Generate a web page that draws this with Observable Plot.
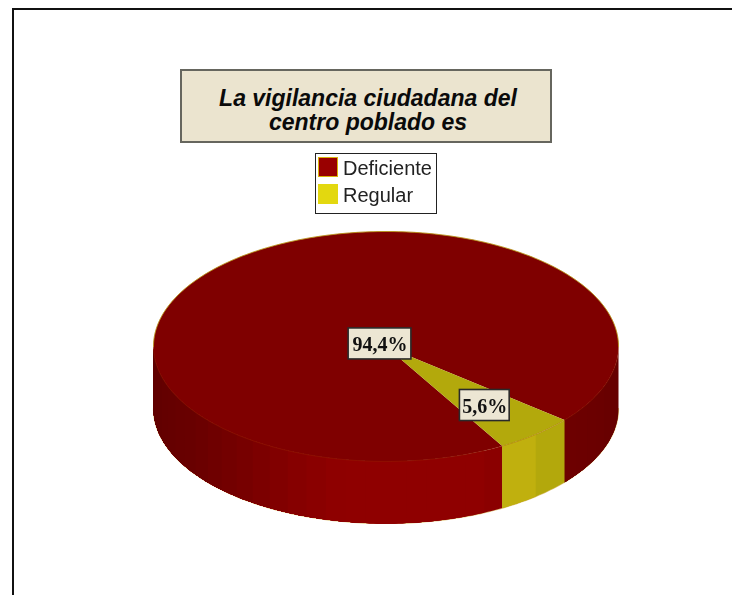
<!DOCTYPE html>
<html><head><meta charset="utf-8">
<script src="https://cdn.jsdelivr.net/npm/d3@7"></script>
<script src="https://cdn.jsdelivr.net/npm/@observablehq/plot@0.6"></script>
<style>
html,body{margin:0;padding:0;background:#fff;overflow:hidden;}
#frame{position:relative;box-sizing:border-box;margin:8px 0 0 12px;width:720px;height:590px;border-left:2px solid #111;border-top:2px solid #111;font-family:"Liberation Sans",Arial,sans-serif;filter:blur(0.35px);}
#title{box-sizing:border-box;position:absolute;left:166px;top:59px;width:372px;height:74px;background:#ebe4cf;border:2.5px solid #66665e;text-align:center;font:italic bold 23px/24px "Liberation Sans",Arial,sans-serif;color:#0a0a0a;padding:15px 0 0 4px;white-space:nowrap;}
#legend{box-sizing:border-box;position:absolute;left:301px;top:143px;width:122px;height:61px;background:#fff;border:1.5px solid #222;font-size:20px;color:#222;}
#legend div{position:absolute;left:27px;line-height:25px;white-space:nowrap;}
#legend i{position:absolute;left:2px;width:20px;height:20px;box-sizing:border-box;}
#chart{position:absolute;left:0;top:215px;}
svg{display:block;overflow:hidden;}
</style></head><body>
<div id="frame">
  <div id="title">La vigilancia ciudadana del<br>centro poblado es</div>
  <div id="legend"></div>
  <div id="chart"></div>
</div>
<script>
const categories = ["Deficiente", "Regular"];
const shares = [94.4, 5.6];
const labels = ["94,4%", "5,6%"];

const topColors = {Deficiente: "#7f0000", Regular: "#b3a90c"};
const swatchColors = {Deficiente: "#990000", Regular: "#e3d80f"};
const depth = 0.54, toRad = Math.PI / 180;

const legend = document.getElementById("legend");
categories.forEach((c, i) => {
  const s = document.createElement("i");
  s.style.top = (3 + i * 27) + "px";
  s.style.background = swatchColors[c];
  if (i === 0) s.style.border = "1.5px solid #d9b30a";
  legend.append(s);
  const t = document.createElement("div");
  t.style.top = (2 + i * 27) + "px";
  t.textContent = c;
  legend.append(t);
});

// Angles are clockwise from 12 o'clock, as d3.pie produces them.
const arcs = d3.pie().sort(null).startAngle(150 * toRad).endAngle(510 * toRad)(shares)
  .map((a, i) => ({name: categories[i], label: labels[i], a0: a.startAngle / toRad, a1: a.endAngle / toRad}));

const px = a => Math.sin(a * toRad), py = a => Math.cos(a * toRad);
const degs = (a0, a1) => d3.range(a0, a1, 1).concat([a1]);

// Top faces
const topRows = [];
for (const s of arcs) {
  const id = "top-" + s.name;
  topRows.push({id, x: 0, y: 0, c: topColors[s.name]});
  for (const a of degs(s.a0, s.a1)) topRows.push({id, x: px(a), y: py(a), c: topColors[s.name]});
}

// Front wall: overlapping shaded bands, painted in order so no seams show
const wallRed = d3.scaleLinear()
  .domain([90, 130, 156, 191, 202, 216, 237, 270])
  .range(["#640000", "#6e0000", "#8f0000", "#8f0000", "#860000", "#780000", "#680000", "#5f0000"])
  .clamp(true);
const wallRows = [];
function band(a0, a1, color) {
  const id = "wall-" + a0;
  const as = degs(a0, a1);
  for (const a of as) wallRows.push({id, x: px(a), y: py(a), c: color});
  for (const a of as.slice().reverse()) wallRows.push({id, x: px(a), y: py(a) - depth, c: color});
}
const regStart = arcs[1].a0 - 360, regEnd = arcs[1].a1 - 360, regMid = (regStart + regEnd) / 2;
const bandStep = 5;
for (let a = 90; a < regStart; a += bandStep) band(a, regStart, wallRed(a + bandStep / 2));
for (let a = regEnd; a < 270; a += bandStep) band(a, 270, wallRed(a + bandStep / 2));
band(regStart, regEnd, "#b3a80c");
band(regMid, regEnd, "#c0b00e");

// Rim lines
const rim = degs(0, 360).map(a => ({x: px(a), y: py(a)}));
const backRim = degs(-90, 90).map(a => ({x: px(a), y: py(a)}));
const lowRim = degs(90, 270).map(a => ({x: px(a), y: py(a) - depth}));

// Labels
const labelRadius = [0.04, 0.66];
const labelRows = arcs.map((s, i) => {
  const m = (s.a0 + s.a1) / 2;
  return {label: s.label, x: labelRadius[i] * px(m), y: labelRadius[i] * py(m), hw: [0.135, 0.107][i], hh: 0.135};
});

const plot = Plot.plot({
  width: 718, height: 368,
  marginLeft: 139, marginRight: 114, marginTop: 6, marginBottom: 70,
  x: {domain: [-1, 1], axis: null},
  y: {domain: [-1 - depth, 1], axis: null},
  color: {type: "identity"},
  style: {background: "transparent"},
  marks: [
    Plot.line(lowRim, {x: "x", y: "y", stroke: "#c89a20", strokeWidth: 1.2, strokeOpacity: 0.6}),
    Plot.line(wallRows, {x: "x", y: "y", z: "id", fill: "c", stroke: "none"}),
    Plot.line(topRows, {x: "x", y: "y", z: "id", fill: "c", stroke: "none"}),
    Plot.line(rim, {x: "x", y: "y", stroke: "#a83a00", strokeWidth: 0.6, strokeOpacity: 0.45}),
    Plot.line(backRim, {x: "x", y: "y", stroke: "#b8a010", strokeWidth: 0.9, strokeOpacity: 0.8}),
    Plot.rect(labelRows, {
      x1: d => d.x - d.hw, x2: d => d.x + d.hw, y1: d => d.y - d.hh, y2: d => d.y + d.hh, dy: 1,
      fill: "#ece6d3", stroke: "#2a2a2a", strokeWidth: 1.6
    }),
    Plot.text(labelRows, {
      x: "x", y: "y", text: "label", fill: "#111", dy: 2,
      fontFamily: "Liberation Serif, serif", fontWeight: "bold", fontSize: 20
    })
  ]
});
document.getElementById("chart").append(plot);
</script>
</body></html>
